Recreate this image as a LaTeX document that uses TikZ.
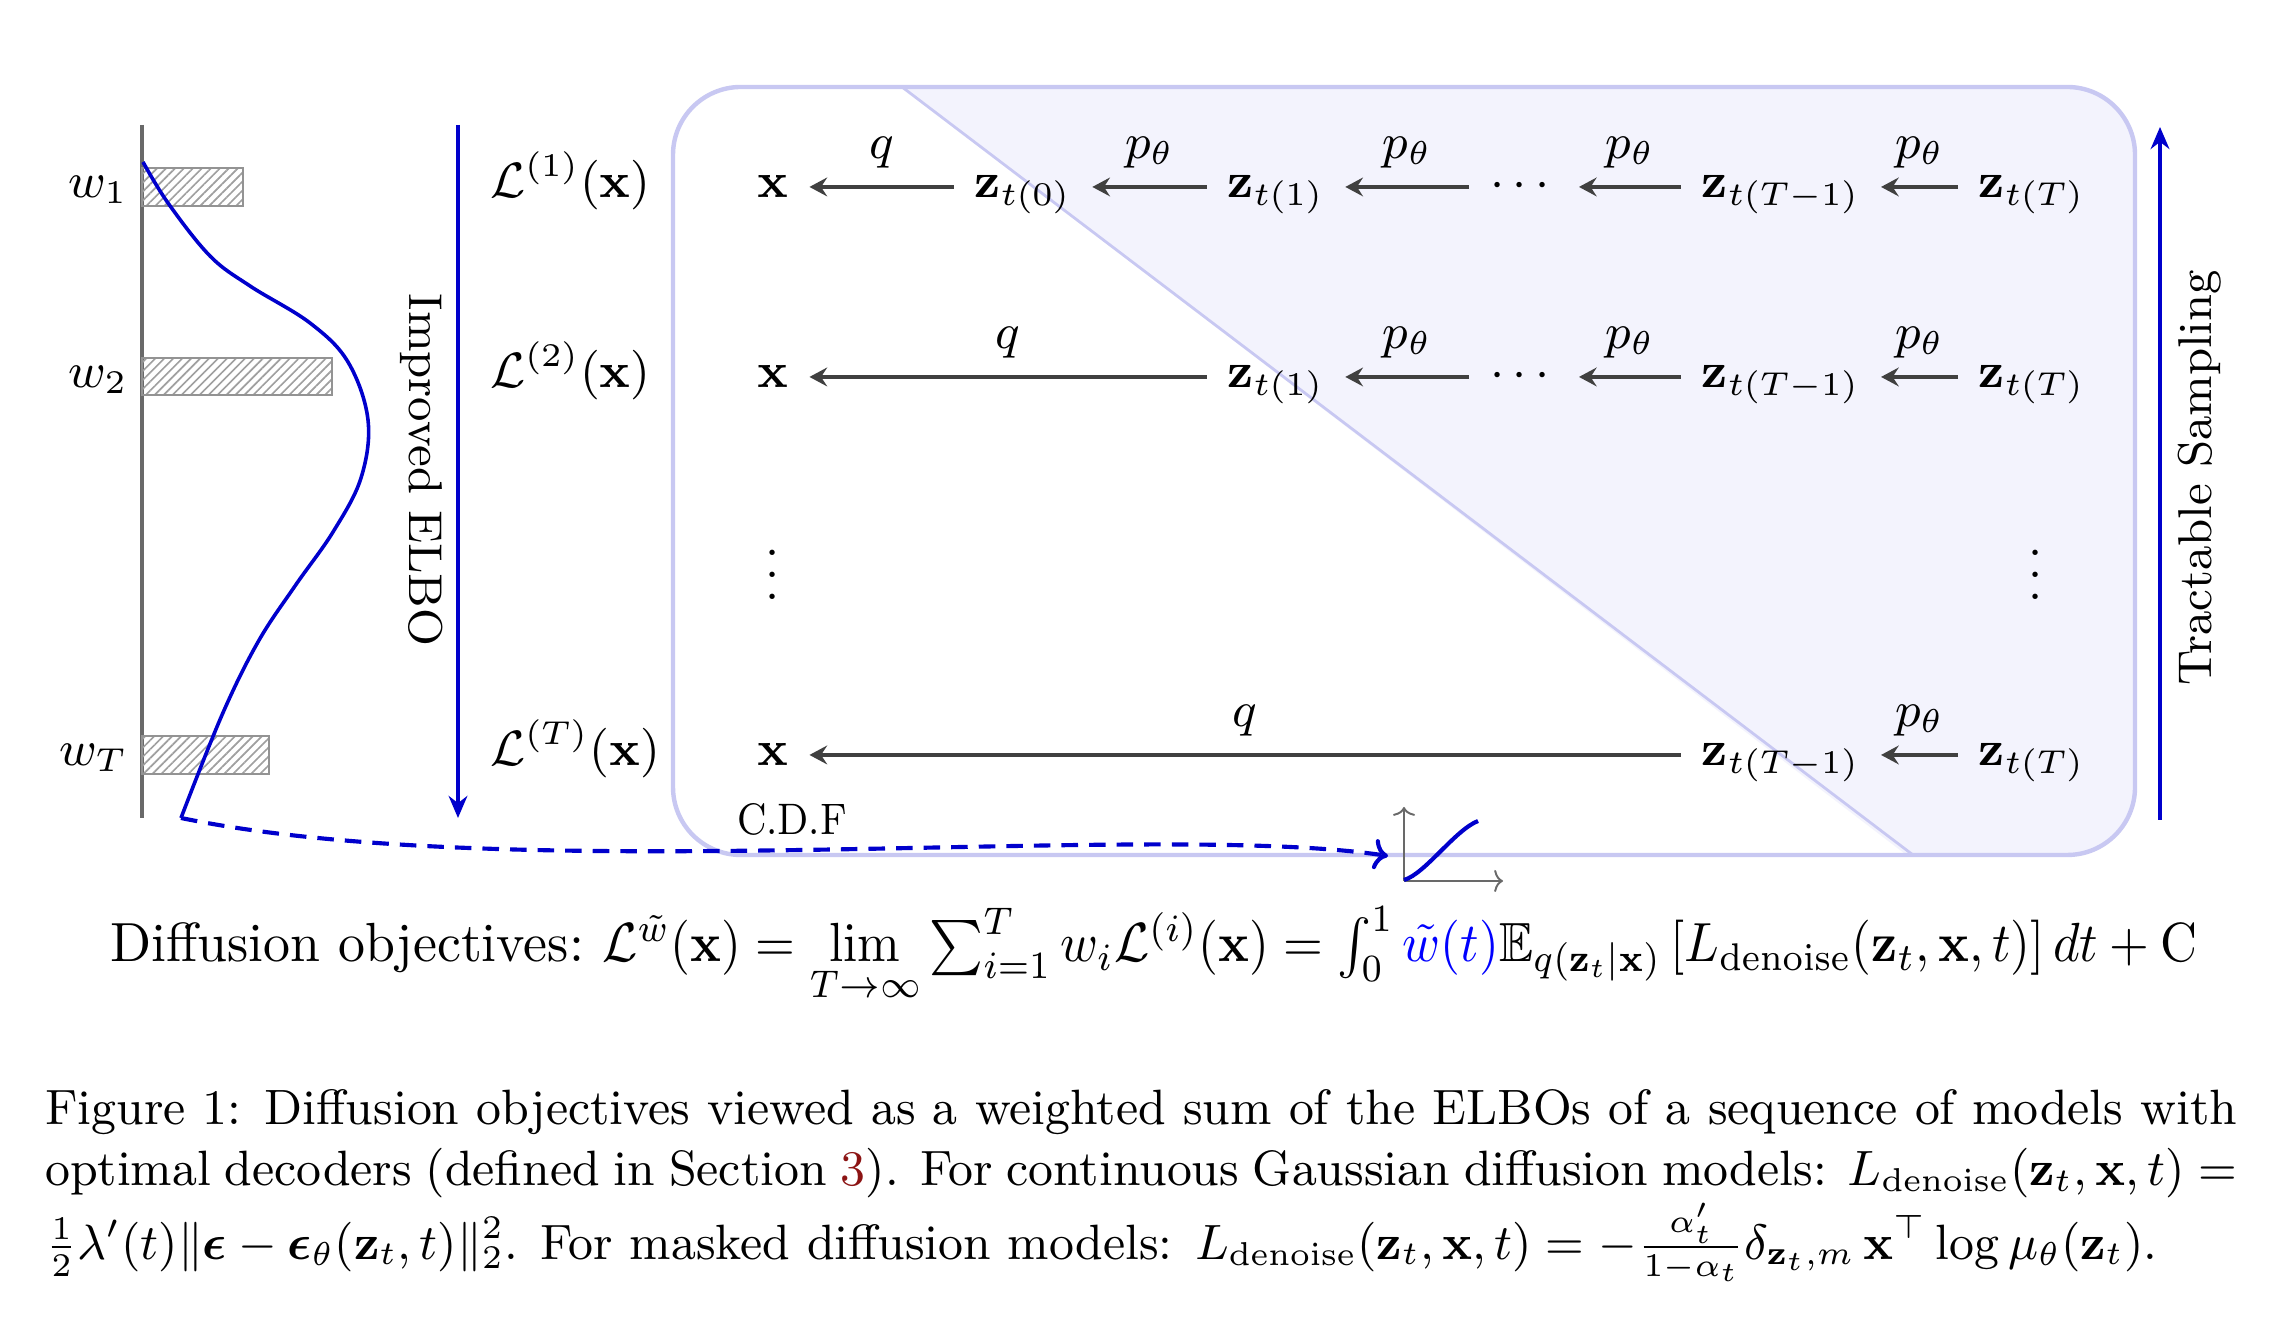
\documentclass[tikz,border=0pt]{standalone}
\usepackage{amsmath,amssymb,graphicx}
\usetikzlibrary{arrows.meta,patterns.meta}
\definecolor{myblue}{rgb}{0,0,0.8}
\definecolor{boxline}{RGB}{200,200,242}
\definecolor{boxfill}{RGB}{243,243,253}
\definecolor{arrgray}{RGB}{64,64,64}
\definecolor{axgray}{RGB}{105,105,105}
\definecolor{refred}{RGB}{140,20,20}
\newcommand{\dfont}{\fontsize{9}{11}\selectfont}
\newcommand{\tfont}{\fontsize{8.6}{10.5}\selectfont}
\newcommand{\cdffont}{\fontsize{8}{9.5}\selectfont}
\newcommand{\eqfont}{\fontsize{10}{12}\selectfont}
\begin{document}
\begin{tikzpicture}[x=0.18132pt, y=-0.18132pt,
  rownode/.style={font=\dfont, anchor=base, text height=7pt, text depth=3pt, inner xsep=3.6pt, inner ysep=0pt},
  arr/.style={draw=arrgray, line width=0.6pt, -{Stealth[length=3.2pt,width=3.4pt,inset=1.1pt]}},
  lab/.style={font=\dfont, anchor=base, yshift=5.07pt, inner sep=0pt},
  bluearr/.style={draw=myblue, line width=0.6pt, -{Stealth[length=4pt,width=3.4pt,inset=1.3pt]}},
  bar/.style={draw=gray!85, line width=0.45pt, pattern={Lines[angle=45,distance=1.15pt,line width=0.3pt]}, pattern color=gray!75},
  wlab/.style={font=\dfont, anchor=base east, inner sep=0pt},
  llab/.style={font=\dfont, anchor=base west, inner sep=0pt},
  cdfax/.style={draw=axgray, line width=0.35pt, -{To[length=1.6pt,width=4pt]}}
]
\fill[white] (0,0) rectangle (2288,1330);
\useasboundingbox (0,0) rectangle (2288,1330);

% ---- left weight plot ----
\draw[axgray, line width=0.65pt] (142,125) -- (142,818);
\draw[bar] (142,168) rectangle (243,206);
\draw[bar] (142,358) rectangle (332,395);
\draw[bar] (142,736) rectangle (269,774);
\node[wlab] (w1) at (129,198) {$w_1$};
\node[wlab] (w2) at (129,388) {$w_2$};
\node[wlab] (wT) at (129,766) {$w_T$};
\draw[myblue, line width=0.65pt] plot[smooth, tension=0.6] coordinates {(143,162) (168,203) (210,256) (250,286) (310,323) (348,362) (368,420) (361,478) (333,532) (295,586) (258,642) (222,715) (181,818)};
\coordinate (cstart) at (181,818);

% ---- Improved ELBO ----
\coordinate (e1) at (458,125);
\coordinate (e2) at (458,818);
\draw[bluearr] (e1) -- (e2);
\node[font=\tfont, rotate=-90] (elbo) at (422,470) {Improved ELBO};

\node[llab] (L1) at (489,198) {$\mathcal{L}^{(1)}(\mathbf{x})$};
\node[llab] (L2) at (489,388) {$\mathcal{L}^{(2)}(\mathbf{x})$};
\node[llab] (LT) at (489,766) {$\mathcal{L}^{(T)}(\mathbf{x})$};

% ---- box ----
\begin{scope}
\clip[rounded corners=12.3pt] (673,87) rectangle (2135,855);
\fill[boxfill] (902,87) -- (2140,87) -- (2140,860) -- (1913,860) -- cycle;
\end{scope}
\draw[boxline, line width=0.5pt] (902,87) -- (1913,855);
\draw[boxline, line width=0.8pt, rounded corners=12.3pt] (673,87) rectangle (2135,855);

% ---- row 1 ----
\node[rownode] (x1) at (773,198) {$\mathbf{x}$};
\node[rownode] (a0) at (1023,198) {$\mathbf{z}_{t(0)}$};
\node[rownode] (a1) at (1276,198) {$\mathbf{z}_{t(1)}$};
\node[rownode] (d1) at (1524,198) {$\cdots$};
\node[rownode] (aT1) at (1781,198) {$\mathbf{z}_{t(T-1)}$};
\node[rownode] (aT) at (2032,198) {$\mathbf{z}_{t(T)}$};
\draw[arr] (a0) -- node[lab]{$q$} (x1);
\draw[arr] (a1) -- node[lab]{$p_\theta$} (a0);
\draw[arr] (d1) -- node[lab]{$p_\theta$} (a1);
\draw[arr] (aT1) -- node[lab]{$p_\theta$} (d1);
\draw[arr] (aT) -- node[lab]{$p_\theta$} (aT1);

% ---- row 2 ----
\node[rownode] (x2) at (773,388) {$\mathbf{x}$};
\node[rownode] (b1) at (1276,388) {$\mathbf{z}_{t(1)}$};
\node[rownode] (d2) at (1524,388) {$\cdots$};
\node[rownode] (bT1) at (1781,388) {$\mathbf{z}_{t(T-1)}$};
\node[rownode] (bT) at (2032,388) {$\mathbf{z}_{t(T)}$};
\draw[arr] (b1) -- node[lab]{$q$} (x2);
\draw[arr] (d2) -- node[lab]{$p_\theta$} (b1);
\draw[arr] (bT1) -- node[lab]{$p_\theta$} (d2);
\draw[arr] (bT) -- node[lab]{$p_\theta$} (bT1);

% ---- row 3 ----
\node[font=\dfont, anchor=base, inner sep=0pt] (v1) at (773,600) {$\vdots$};
\node[font=\dfont, anchor=base, inner sep=0pt] (v2) at (2036,600) {$\vdots$};

% ---- row 4 ----
\node[rownode] (x4) at (773,766) {$\mathbf{x}$};
\node[rownode] (cT1) at (1781,766) {$\mathbf{z}_{t(T-1)}$};
\node[rownode] (cT) at (2032,766) {$\mathbf{z}_{t(T)}$};
\draw[arr] (cT1) -- node[lab]{$q$} (x4);
\draw[arr] (cT) -- node[lab]{$p_\theta$} (cT1);

% ---- Tractable Sampling ----
\coordinate (s1) at (2160,820);
\coordinate (s2) at (2160,127);
\draw[bluearr] (s1) -- (s2);
\node[font=\tfont, rotate=90] (ts) at (2200,478) {Tractable Sampling};

% ---- CDF ----
\node[font=\cdffont, inner sep=0pt] (cdf) at (792,819) {\scalebox{0.87}[1]{C.D.F}};
\coordinate (o) at (1404,881);
\coordinate (oy) at (1404,807);
\coordinate (ox) at (1503,881);
\draw[cdfax] (o) -- (oy);
\draw[cdfax] (o) -- (ox);
\draw[myblue, line width=0.75pt] (1404,880) .. controls (1425,874) and (1455,830) .. (1478,821);
\coordinate (cend) at (1388,856);
\draw[myblue, line width=0.75pt, dash pattern=on 3pt off 2pt, -{To[length=2.6pt,width=5.5pt]}] (cstart) .. controls (520,888) and (1150,820) .. (cend);

% ---- formula ----
\node[font=\eqfont, anchor=base west, inner sep=0pt] (eq) at (109,962) {\scalebox{0.976}[1]{Diffusion objectives:} \scalebox{0.927}[1]{$\mathcal{L}^{\tilde{w}}(\mathbf{x}) = \lim\limits_{T\to\infty}\sum_{i=1}^{T} w_i\mathcal{L}^{(i)}(\mathbf{x}) = \int_0^1 \textcolor{blue}{\tilde{w}(t)}\mathbb{E}_{q(\mathbf{z}_t|\mathbf{x})}\left[L_{\mathrm{denoise}}(\mathbf{z}_t,\mathbf{x},t)\right]dt + \mathrm{C}$}};

% ---- caption ----
\node[anchor=base west, inner sep=0pt] (cap) at (44,1125) {\scalebox{0.976}[1]{\parbox[t]{407.3pt}{\small Figure 1: Diffusion objectives viewed as a weighted sum of the ELBOs of a sequence of models with\linebreak optimal decoders (defined in Section~\textcolor{refred}{3}). For continuous Gaussian diffusion models: $L_{\mathrm{denoise}}(\mathbf{z}_t,\mathbf{x},t) =$\linebreak $\frac{1}{2}\lambda'(t)\|\boldsymbol{\epsilon}-\boldsymbol{\epsilon}_\theta(\mathbf{z}_t,t)\|_2^2$. For masked diffusion models: $L_{\mathrm{denoise}}(\mathbf{z}_t,\mathbf{x},t) = -\frac{\alpha_t'}{1-\alpha_t}\delta_{\mathbf{z}_t,m}\,\mathbf{x}^\top\log\mu_\theta(\mathbf{z}_t)$.}}};
\end{tikzpicture}
\end{document}
